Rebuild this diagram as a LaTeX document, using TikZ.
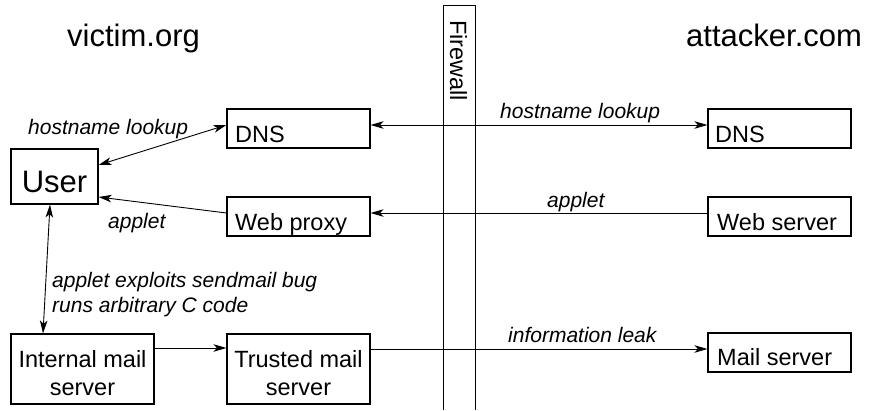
\documentclass[tikz,border=0pt]{standalone}
\usepackage{fontspec}
\setmainfont{Liberation Sans}
\usetikzlibrary{arrows.meta}
\begin{document}
\begin{tikzpicture}[x=1pt,y=-1pt,
  box/.style={draw, line width=1.1pt, inner sep=0pt, minimum width=143pt, minimum height=39pt},
  boxtext/.style={inner sep=0pt, anchor=base west, font=\fontsize{23.5}{28}\selectfont},
  lbl/.style={inner sep=0pt, anchor=base west, font=\fontsize{21}{25}\selectfont\itshape},
  ttl/.style={inner sep=0pt, anchor=base west, font=\fontsize{31}{36}\selectfont},
  tip/.tip={Stealth[length=13pt,width=7.5pt,inset=3.5pt]},
  conn/.style={line width=0.9pt, -tip},
  conn2/.style={line width=0.9pt, tip-tip},
  plainline/.style={line width=0.9pt}]
\useasboundingbox (0,0) rectangle (870,410);

% firewall
\draw[plainline] (443,410) -- (443,5) -- (475,5) -- (475,410);
\node[inner sep=0pt, anchor=base west, rotate=-90, font=\fontsize{23.5}{28}\selectfont] (fwtext) at (450,20) {Firewall};

% titles
\node[ttl] (victim) at (67,46) {victim.org};
\node[ttl] (attacker) at (686,46) {attacker.com};

% boxes
\node[box] (dnsL) at (298.5,128.5) {};
\node[boxtext] (dnsLt) at (235,142) {DNS};
\node[box] (proxy) at (298.5,216.5) {};
\node[boxtext] (proxyt) at (235,230) {Web proxy};
\node[box] (dnsR) at (779.5,128.5) {};
\node[boxtext] (dnsRt) at (715,142) {DNS};
\node[box] (websrv) at (779.5,216.5) {};
\node[boxtext] (websrvt) at (717,230) {Web server};
\node[box] (mailsrv) at (779.5,352.5) {};
\node[boxtext] (mailsrvt) at (717,365) {Mail server};
\node[box, minimum width=87pt, minimum height=55pt] (user) at (54.5,176.5) {};
\node[inner sep=0pt, anchor=base, font=\fontsize{31}{36}\selectfont] (usert) at (54.5,192) {User};
\node[box, minimum height=70pt] (internal) at (82.5,369) {};
\node[inner sep=0pt, align=center, anchor=base, font=\fontsize{23.5}{28}\selectfont] (internalt) at (82.5,395) {Internal mail\\server};
\node[box, minimum height=70pt] (trusted) at (298.5,369) {};
\node[inner sep=0pt, align=center, anchor=base, font=\fontsize{23.5}{28}\selectfont] (trustedt) at (298.5,395) {Trusted mail\\server};

% connectors
\draw[conn2] ([yshift=11.5pt]user.east) -- ([yshift=3.5pt]dnsL.west);
\draw[conn] ([yshift=3.5pt]proxy.west) -- ([yshift=-20.5pt]user.east);
\draw[conn2] ([xshift=-4.5pt]user.south) -- ([xshift=-39.5pt]internal.north);
\draw[conn] ([yshift=21pt]internal.east) -- ([yshift=21pt]trusted.west);
\draw[conn2] ([yshift=3.5pt]dnsL.east) -- ([yshift=3.5pt]dnsR.west);
\draw[conn] ([yshift=3.5pt]websrv.west) -- ([yshift=3.5pt]proxy.east);
\draw[conn] ([yshift=20pt]trusted.east) -- ([yshift=3.5pt]mailsrv.west);

% labels
\node[lbl] (l1) at (28,134) {hostname lookup};
\node[lbl] (l2) at (108,228) {applet};
\node[lbl, align=left, anchor=base west] (l3) at (52,312) {applet exploits sendmail bug\\runs arbitrary C code};
\node[lbl] (l4) at (500,118) {hostname lookup};
\node[lbl] (l5) at (547,207) {applet};
\node[lbl] (l6) at (508,342) {information leak};
\end{tikzpicture}
\end{document}
